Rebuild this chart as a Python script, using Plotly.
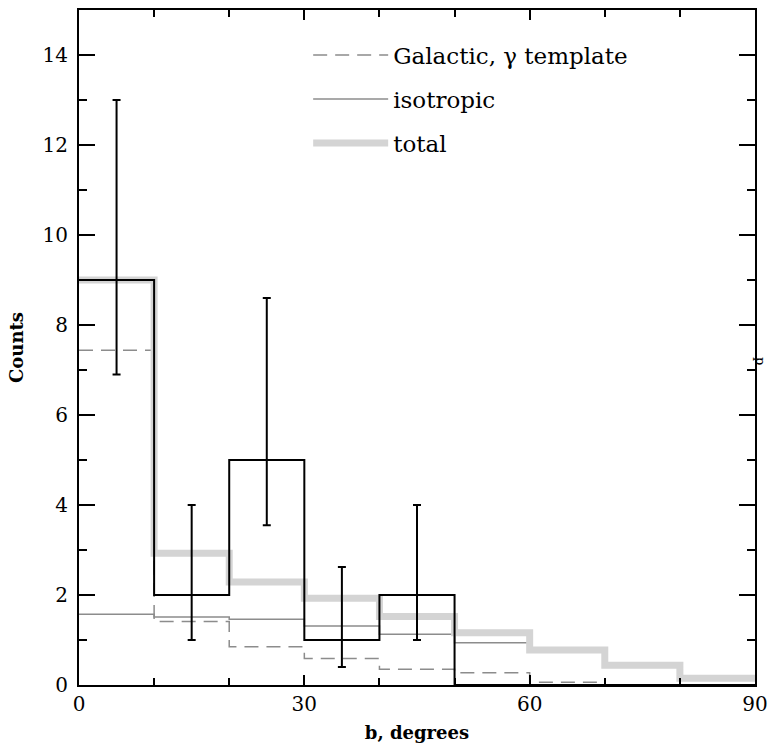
import plotly.graph_objects as go

# Bin edges (degrees of galactic latitude b)
bin_edges = [0, 10, 20, 30, 40, 50, 60, 70, 80, 90]

# Observed counts per bin (black histogram)
data_counts = [9, 2, 5, 1, 2, 0, 0, 0, 0]
# Error bars at bin centres
err_x = [5, 15, 25, 35, 45]
err_y = [9, 2, 5, 1, 2]
err_upper = [4.0, 2.0, 3.6, 1.62, 2.0]
err_lower = [2.1, 1.0, 1.45, 0.6, 1.0]

# Model components per bin
galactic = [7.44, 1.41, 0.85, 0.59, 0.35, 0.27, 0.06, 0.0, 0.0]
isotropic = [1.57, 1.51, 1.46, 1.31, 1.13, 0.94, 0.73, 0.44, 0.15]
total = [9.0, 2.93, 2.29, 1.93, 1.52, 1.16, 0.78, 0.44, 0.15]

x_label = "b, degrees"
y_label = "Counts"
x_ticks = [0, 30, 60, 90]
y_ticks = [0, 2, 4, 6, 8, 10, 12, 14]

FONT = "DejaVu Serif"


def steps(vals):
    # repeat last value so the final bin is closed at the right edge
    return list(vals) + [vals[-1]]


fig = go.Figure()

fig.add_trace(go.Scatter(
    x=bin_edges, y=steps(galactic), mode="lines", line_shape="hv",
    line=dict(color="#8c8c8c", width=1.5, dash="14px,8px"),
    name="Galactic, \u03b3 template", legendgroup="g1"))
fig.add_trace(go.Scatter(
    x=bin_edges, y=steps(isotropic), mode="lines", line_shape="hv",
    line=dict(color="#8c8c8c", width=1.5),
    name="isotropic", legendgroup="g2"))
fig.add_trace(go.Scatter(
    x=bin_edges, y=steps(total), mode="lines", line_shape="hv",
    line=dict(color="#d4d4d4", width=7),
    name="total", legendgroup="g3"))

# observed histogram: only drawn up to last non-empty bin edge
fig.add_trace(go.Scatter(
    x=bin_edges[:6] + [bin_edges[-1]], y=data_counts[:6] + [0],
    mode="lines", line_shape="hv",
    line=dict(color="black", width=2), showlegend=False))

fig.add_trace(go.Scatter(
    x=err_x, y=err_y, mode="markers",
    marker=dict(size=1, color="rgba(0,0,0,0)"),
    error_y=dict(type="data", symmetric=False, array=err_upper,
                 arrayminus=err_lower, color="black", thickness=2, width=4),
    showlegend=False))

fig.update_layout(
    width=769, height=747,
    margin=dict(l=79, r=14, t=10, b=62),
    paper_bgcolor="white", plot_bgcolor="white",
    font=dict(family=FONT, color="black", size=18),
    legend=dict(x=0.339, y=0.965, xanchor="left", yanchor="top",
                bgcolor="rgba(0,0,0,0)", font=dict(family=FONT, size=23),
                traceorder="grouped", tracegroupgap=11,
                itemwidth=75),
)

fig.update_xaxes(
    range=[0, 90], tickvals=x_ticks, ticks="inside", ticklen=10, tickwidth=2,
    tickcolor="black", showline=True, linecolor="black", linewidth=2,
    mirror="allticks", showgrid=False, zeroline=False, automargin=False,
    tickfont=dict(family=FONT, size=20),
    minor=dict(dtick=10, tick0=0, ticks="inside", ticklen=7, tickwidth=2,
               tickcolor="black", showgrid=False),
    title=dict(text="<b>" + x_label + "</b>", standoff=11,
               font=dict(family=FONT, size=18)),
)
fig.update_yaxes(
    range=[0, 15], tickvals=y_ticks, ticks="inside", ticklen=16, tickwidth=2,
    tickcolor="black", showline=True, linecolor="black", linewidth=2,
    mirror="allticks", showgrid=False, zeroline=False, automargin=False,
    tickfont=dict(family=FONT, size=20), ticklabelstandoff=5,
    minor=dict(dtick=1, tick0=0, ticks="inside", ticklen=8, tickwidth=2,
               tickcolor="black", showgrid=False),
    title=dict(text="<b>" + y_label + "</b>", standoff=14,
               font=dict(family=FONT, size=18)),
)

# stray cut-off label at the right edge of the original figure
fig.add_annotation(x=1.0, y=0.48, xref="paper", yref="paper", xanchor="center",
                   xshift=6, text="p", showarrow=False, textangle=90,
                   font=dict(family=FONT, size=13, color="black"))

fig.write_html("out.html")
